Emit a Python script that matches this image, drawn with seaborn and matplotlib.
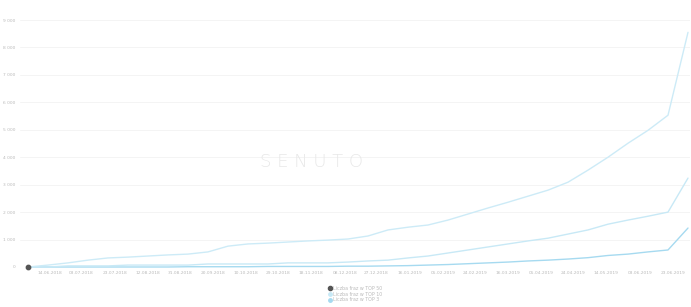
import matplotlib
matplotlib.use("Agg")
import matplotlib.pyplot as plt
import seaborn as sns
import pandas as pd
import numpy as np

# ---- data ----
start = pd.Timestamp("2018-06-01")
dates = pd.date_range(start, periods=34, freq="12D")
top50 = [0, 70, 150, 250, 330, 360, 400, 440, 470, 550, 760, 840, 870, 910, 950, 980, 1020,
         1130, 1350, 1450, 1530, 1710, 1930, 2150, 2360, 2580, 2800, 3090, 3530, 4000, 4510,
         4980, 5530, 8550]
top10 = [0, 0, 40, 40, 40, 70, 70, 70, 70, 110, 110, 110, 110, 150, 150, 150, 180, 220, 250,
         330, 400, 510, 620, 730, 840, 950, 1050, 1200, 1350, 1560, 1710, 1850, 2000, 3240]
top3 = [0, 0, 0, 0, 0, 0, 0, 0, 10, 10, 10, 10, 20, 20, 20, 20, 30, 30, 40, 50, 70, 90, 120,
        150, 180, 220, 250, 290, 340, 420, 470, 550, 620, 1420]
series_names = ["Liczba fraz w TOP 3", "Liczba fraz w TOP 10", "Liczba fraz w TOP 50"]
y_ticks = [0, 1000, 2000, 3000, 4000, 5000, 6000, 7000, 8000, 9000]
y_tick_labels = ["0", "1 000", "2 000", "3 000", "4 000", "5 000", "6 000", "7 000", "8 000", "9 000"]
tick_dates = pd.date_range(start + pd.Timedelta(days=13), start + pd.Timedelta(days=387), periods=20).normalize()

df = pd.concat([
    pd.DataFrame({"date": dates, "value": top3, "series": series_names[0]}),
    pd.DataFrame({"date": dates, "value": top10, "series": series_names[1]}),
    pd.DataFrame({"date": dates, "value": top50, "series": series_names[2]}),
])

sns.set_theme(style="white")
plt.rcParams["font.family"] = ["DejaVu Sans"]

fig = plt.figure(figsize=(6.91, 3.07), dpi=100)
ax = fig.add_axes([20 / 691, 1 - 267 / 307, 670 / 691, 247 / 307])

palette = {series_names[0]: "#a6daf0", series_names[1]: "#c8e9f6", series_names[2]: "#cdebf7"}
sns.lineplot(data=df, x="date", y="value", hue="series", palette=palette, ax=ax,
             linewidth=1.0, legend=False)
for l in ax.lines:
    l.set_clip_on(False)

# start marker
ax.scatter([dates[0]], [top3[0]], s=10, color="#555555", zorder=5, clip_on=False)

ax.set_xlim(start - pd.Timedelta(days=4.8), start + pd.Timedelta(days=397.2))
ax.set_ylim(0, 9000)
ax.set_yticks(y_ticks)
ax.set_yticklabels(y_tick_labels)
ax.set_xticks(tick_dates)
ax.set_xticklabels([d.strftime("%d.%m.%Y") for d in tick_dates])
ax.tick_params(axis="both", labelsize=3.2, colors="#bbbbbb", length=0, pad=3)
ax.grid(axis="y", color="#f2f2f2", linewidth=0.6)
ax.set_axisbelow(True)
for s in ax.spines.values():
    s.set_visible(False)
ax.axhline(0, color="#d8eef8", linewidth=0.6, zorder=1)
ax.set_xlabel("")
ax.set_ylabel("")

# watermark
fig.text(312 / 691, 1 - 162 / 307, "S E N U T O", ha="center", va="center",
         fontsize=13, color="#e8e8e8", fontweight="light")

# legend
from matplotlib.lines import Line2D
handles = [
    Line2D([], [], marker="o", linestyle="none", markersize=3, color="#555555"),
    Line2D([], [], marker="o", linestyle="none", markersize=2.5, color="#c8e9f6"),
    Line2D([], [], marker="o", linestyle="none", markersize=2.5, color="#a6daf0"),
]
fig.legend(handles, [series_names[2], series_names[1], series_names[0]],
           loc="center", bbox_to_anchor=(355 / 691, 1 - 294 / 307), frameon=False,
           fontsize=3.4, labelcolor="#bbbbbb", handletextpad=0.3, labelspacing=0.2,
           borderpad=0, handlelength=1)

fig.savefig("out.png", dpi=100)
